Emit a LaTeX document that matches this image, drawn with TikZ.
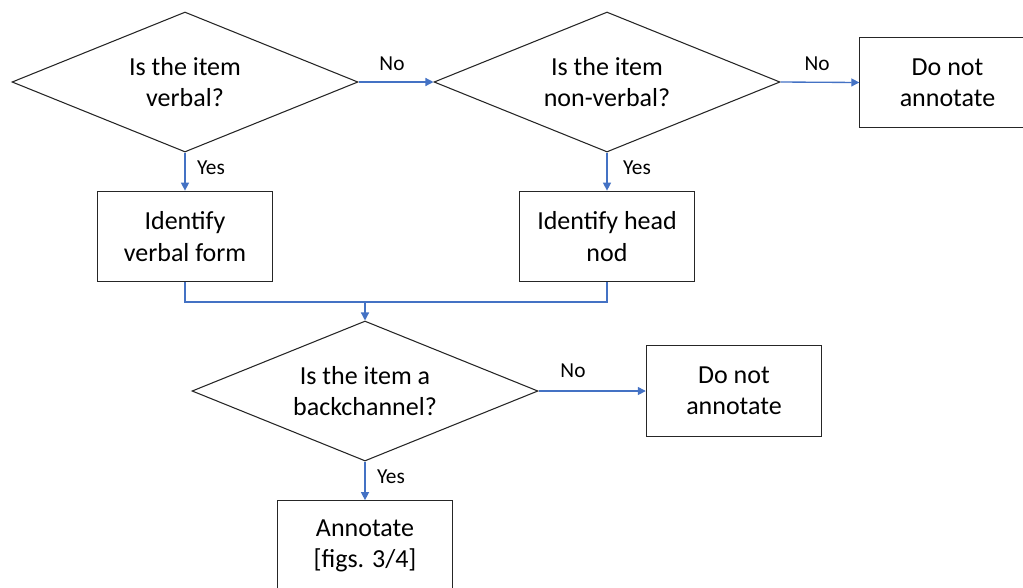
\documentclass[tikz,border=0pt]{standalone}
\usepackage{fontspec}
\setmainfont{Carlito}
\usetikzlibrary{shapes.geometric,arrows.meta}

\definecolor{flowblue}{RGB}{68,114,196}

\tikzset{
  decision/.style={draw=black!85, line width=0.8pt, shape=diamond, aspect=2.47,
    inner sep=0pt, minimum width=259.5pt, minimum height=105pt, align=center,
    font=\fontsize{19.5}{23.5}\selectfont},
  action/.style={draw=black!85, line width=0.8pt, rectangle, inner sep=0pt,
    minimum width=131.5pt, minimum height=68pt, align=center,
    font=\fontsize{19.5}{23.5}\selectfont},
  link/.style={draw=flowblue, line width=1pt},
  flow/.style={link, -{Triangle[width=6pt,length=6pt]}},
  answer/.style={font=\fontsize{16}{19}\selectfont}
}

\begin{document}
\begin{tikzpicture}[x=0.75pt,y=0.75pt,yscale=-1]
\useasboundingbox (0,0) rectangle (1023,587);

% Decisions
\node[decision] (verbal) at (185,82) {Is the item\\verbal?};
\node[decision] (nonverbal) at (607,82) {Is the item\\non-verbal?};
\node[decision] (backch) at (365,391) {Is the item a\\backchannel?};

% Actions
\node[action] (skipA) at (947.5,82.5) {Do not\\annotate};
\node[action] (verbform) at (185,236.5) {Identify\\verbal form};
\node[action] (headnod) at (607,236.5) {Identify head\\nod};
\node[action] (skipB) at (734,391) {Do not\\annotate};
\node[action] (annot) at (365,546) {Annotate\\{[figs. 3/4]}};

% Join point
\coordinate (join) at (365,302);

% Connectors
\draw[flow] (verbal.east) -- (nonverbal.west);
\draw[flow] (nonverbal.east) -- (skipA.west);
\draw[flow] (verbal.south) -- (verbform.north);
\draw[flow] (nonverbal.south) -- (headnod.north);
\draw[link] (verbform.south) |- (join);
\draw[link] (headnod.south) |- (join);
\draw[flow] (join) -- (backch.north);
\draw[flow] (backch.east) -- (skipB.west);
\draw[flow] (backch.south) -- (annot.north);

% Labels
\node[answer] (noA) at (392,64) {No};
\node[answer] (yesA) at (211,168) {Yes};
\node[answer] (noB) at (817,64) {No};
\node[answer] (yesB) at (637,168) {Yes};
\node[answer] (noC) at (573,371) {No};
\node[answer] (yesC) at (391,477) {Yes};

\end{tikzpicture}
\end{document}
